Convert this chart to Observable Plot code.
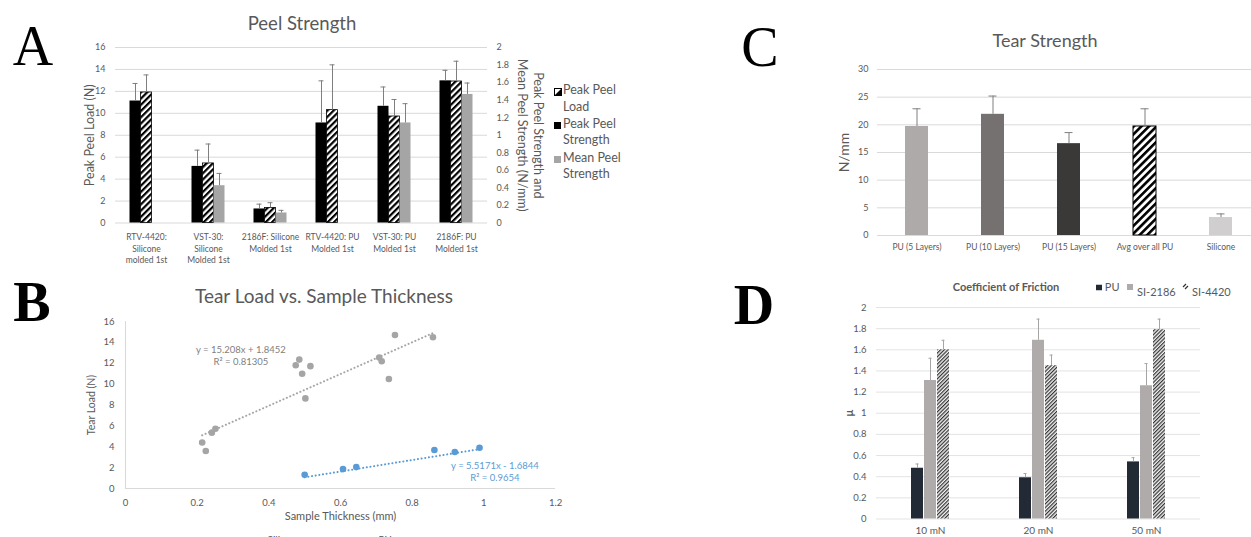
<!DOCTYPE html>
<html>
<head>
<meta charset="utf-8">
<script src="https://cdn.jsdelivr.net/npm/d3@7"></script>
<script src="https://cdn.jsdelivr.net/npm/@observablehq/plot@0.6"></script>
<style>
  html, body { margin: 0; padding: 0; background: #fff; }
  body { width: 1251px; height: 537px; overflow: hidden; position: relative; font-family: Lato, "Open Sans", sans-serif; color: #595959; }
  .abs { position: absolute; }
  .abs svg { max-width: none !important; }
  .c { position: absolute; transform: translate(-50%, -50%); white-space: nowrap; line-height: 1; }
  .l { position: absolute; transform: translate(0, -50%); white-space: nowrap; line-height: 1; }
  .letter { font-family: "Liberation Serif", "Times New Roman", serif; color: #000; }
  .sw { display: inline-block; vertical-align: middle; }
</style>
</head>
<body>
<script>
// ================= Panel A: Peel Strength =================
const peelCategories = ["RTV-4420: Silicone molded 1st", "VST-30: Silicone Molded 1st", "2186F: Silicone Molded 1st", "RTV-4420: PU Molded 1st", "VST-30: PU Molded 1st", "2186F: PU Molded 1st"];
const peelCategoryLabels = ["RTV-4420:\nSilicone\nmolded 1st", "VST-30:\nSilicone\nMolded 1st", "2186F: Silicone\nMolded 1st", "RTV-4420: PU\nMolded 1st", "VST-30: PU\nMolded 1st", "2186F: PU\nMolded 1st"];
const peelSeries = ["Peak Peel Strength", "Peak Peel Load", "Mean Peel Strength"];
const peakPeelLoad = [11.9, 5.43, 1.37, 10.29, 9.71, 12.9];            // N (left axis)
const peakPeelLoadErr = [1.6, 1.77, 0.48, 4.13, 1.55, 1.85];
const peakPeelStrength = [1.39, 0.645, 0.16, 1.14, 1.33, 1.62];       // N/mm (right axis)
const peakPeelStrengthErr = [0.2, 0.185, 0.055, 0.48, 0.22, 0.12];
const meanPeelStrength = [null, 0.425, 0.114, null, 1.14, 1.465];      // N/mm (right axis)
const meanPeelStrengthErr = [null, 0.14, 0.03, null, 0.22, 0.13];
const peelLeftTicks = [0, 2, 4, 6, 8, 10, 12, 14, 16];
const peelRightTicks = [0, 0.2, 0.4, 0.6, 0.8, 1, 1.2, 1.4, 1.6, 1.8, 2];
const peelRightFactor = 8; // 2 N/mm on the right axis = 16 N on the left axis

// ================= Panel B: Tear Load vs. Sample Thickness =================
const puThickness = [0.214, 0.224, 0.241, 0.251, 0.475, 0.485, 0.493, 0.516, 0.502, 0.708, 0.715, 0.735, 0.752, 0.858];
const puTearLoad = [4.41, 3.59, 5.35, 5.73, 11.81, 12.35, 10.99, 11.72, 8.63, 12.54, 12.19, 10.49, 14.71, 14.49];
const siThickness = [0.50, 0.607, 0.644, 0.862, 0.919, 0.988];
const siTearLoad = [1.32, 1.86, 2.05, 3.69, 3.50, 3.91];
const puFit = [15.208, 1.8452];   // slope, intercept
const siFit = [5.5171, -1.6844];
const puFitText = "y = 15.208x + 1.8452\nR² = 0.81305";
const siFitText = "y = 5.5171x - 1.6844\nR² = 0.9654";
const puFitLabelAt = [0.322, 12.74];
const siFitLabelAt = [1.031, 1.62];
const tearXTicks = [0, 0.2, 0.4, 0.6, 0.8, 1, 1.2];
const tearYTicks = [0, 2, 4, 6, 8, 10, 12, 14, 16];

// ================= Panel C: Tear Strength =================
const tearCategories = ["PU (5 Layers)", "PU (10 Layers)", "PU (15 Layers)", "Avg over all PU", "Silicone"];
const tearStrength = [19.7, 21.9, 16.6, 19.7, 3.25];
const tearStrengthErr = [3.2, 3.3, 2.0, 3.2, 0.65];
const tearColors = ["#aeaaaa", "#767171", "#3b3838", "url(#hatchC)", "#d0cece"];
const tearStrengthTicks = [0, 5, 10, 15, 20, 25, 30];

// ================= Panel D: Coefficient of Friction =================
const frictionLoads = ["10 mN", "20 mN", "50 mN"];
const frictionSeries = ["PU", "SI-2186", "SI-4420"];
const frictionPU = [0.48, 0.39, 0.54];
const frictionPUErr = [0.04, 0.04, 0.04];
const frictionSI2186 = [1.31, 1.69, 1.26];
const frictionSI2186Err = [0.21, 0.2, 0.21];
const frictionSI4420 = [1.60, 1.45, 1.79];
const frictionSI4420Err = [0.09, 0.1, 0.1];
const frictionColors = ["#222a35", "#afabab", "url(#hatchD)"];
const frictionTicks = [0, 0.2, 0.4, 0.6, 0.8, 1, 1.2, 1.4, 1.6, 1.8, 2];

// ---------- helpers ----------
const fmt1 = d => String(+(+d).toFixed(1));
function addPattern(svg, id, size, stripe, fg, bg) {
  const defs = d3.select(svg).insert("defs", ":first-child");
  const p = defs.append("pattern").attr("id", id).attr("patternUnits", "userSpaceOnUse")
    .attr("width", size).attr("height", size).attr("patternTransform", "rotate(45)");
  p.append("rect").attr("width", size).attr("height", size).attr("fill", bg);
  p.append("rect").attr("width", stripe).attr("height", size).attr("fill", fg);
}
function place(el, left, top, w, h) {
  const d = document.createElement("div");
  d.className = "abs";
  d.style.left = left + "px";
  d.style.top = top + "px";
  d.style.width = w + "px";
  d.style.height = h + "px";
  el.style.maxWidth = "none";
  el.style.width = w + "px";
  el.style.height = h + "px";
  d.appendChild(el);
  document.body.appendChild(d);
  return d;
}
function html(str) {
  const t = document.createElement("template");
  t.innerHTML = str.trim();
  document.body.appendChild(t.content.firstChild);
}
const baseStyle = {fontFamily: "Lato, sans-serif", fontSize: "9px", color: "#595959", background: "transparent", overflow: "visible"};

// ---------- Panel A ----------
const peelRows = [];
peelCategories.forEach((c, i) => {
  peelRows.push({cat: c, series: "Peak Peel Strength", y: peakPeelStrength[i] * peelRightFactor, top: (peakPeelStrength[i] + peakPeelStrengthErr[i]) * peelRightFactor});
  peelRows.push({cat: c, series: "Peak Peel Load", y: peakPeelLoad[i], top: peakPeelLoad[i] + peakPeelLoadErr[i]});
  if (meanPeelStrength[i] != null)
    peelRows.push({cat: c, series: "Mean Peel Strength", y: meanPeelStrength[i] * peelRightFactor, top: (meanPeelStrength[i] + meanPeelStrengthErr[i]) * peelRightFactor});
});
const bySeries = s => peelRows.filter(d => d.series === s);
const svgA = Plot.plot({
  width: 620, height: 270,
  marginLeft: 113.5, marginRight: 131, marginTop: 47, marginBottom: 47.5,
  style: baseStyle,
  fx: {domain: peelCategories, paddingInner: 0, paddingOuter: 0, axis: null},
  x: {domain: peelSeries, paddingInner: 0, paddingOuter: 1.2, axis: null},
  y: {domain: [0, 16], axis: null},
  marks: [
    Plot.gridY(peelLeftTicks, {stroke: "#d9d9d9", strokeOpacity: 1}),
    Plot.axisY(peelLeftTicks, {anchor: "left", tickSize: 0, tickPadding: 10, fontSize: 9, label: null}),
    Plot.axisY(peelRightTicks.map(v => v * peelRightFactor), {anchor: "right", tickSize: 0, tickPadding: 9, fontSize: 9, label: null, tickFormat: d => fmt1(d / peelRightFactor)}),
    Plot.axisFx({anchor: "bottom", tickSize: 0, tickPadding: 9, fontSize: 8.5, lineHeight: 1.35, label: null, tickFormat: d => peelCategoryLabels[peelCategories.indexOf(d)]}),
    Plot.barY(bySeries("Peak Peel Strength"), {fx: "cat", x: "series", y: "y", fill: "#000"}),
    Plot.barY(bySeries("Peak Peel Load"), {fx: "cat", x: "series", y: "y", fill: "url(#hatchA)", stroke: "#000", strokeWidth: 0.8}),
    Plot.barY(bySeries("Mean Peel Strength"), {fx: "cat", x: "series", y: "y", fill: "#a5a5a5"}),
    Plot.ruleX(peelRows, {fx: "cat", x: "series", y1: "y", y2: "top", stroke: "#7f7f7f", strokeWidth: 1}),
    Plot.tickY(peelRows, {fx: "cat", x: "series", y: "top", stroke: "#7f7f7f", strokeWidth: 1, insetLeft: 3, insetRight: 3}),
    Plot.text(["Peak Peel Load (N)"], {fx: () => peelCategories[0], frameAnchor: "left", textAnchor: "middle", rotate: -90, dx: -25.5, fontSize: 12.5, fill: "#595959"}),
    Plot.text(["Peak Peel Strength and\nMean Peel Strength (N/mm)"], {fx: () => peelCategories[5], frameAnchor: "right", textAnchor: "middle", rotate: 90, dx: 44, fontSize: 12.5, lineHeight: 1.3, fill: "#595959"})
  ]
});
addPattern(svgA, "hatchA", 4.4, 2.2, "#000", "#fff");
place(svgA, 0, 0, 620, 270);
html(`<div class="c" style="left:302px;top:23px;font-size:18.5px;">Peel Strength</div>`);
html(`<div class="c letter" style="left:33px;top:46px;font-size:56px;">A</div>`);
// legend A
const legendA = [
  ["<svg width='8' height='8'><rect x='0.5' y='0.5' width='7' height='7' fill='#fff' stroke='#000'/><path d='M7.5 0.5 L7.5 7.5 L0.5 7.5 Z' fill='#000'/></svg>", "Peak Peel", "Load", 90],
  ["<svg width='8' height='8'><rect width='7' height='7' fill='#000'/></svg>", "Peak Peel", "Strength", 123.5],
  ["<svg width='8' height='8'><rect width='7' height='7' fill='#a5a5a5'/></svg>", "Mean Peel", "Strength", 157.5]
];
legendA.forEach(([sw, a, b, y]) => {
  html(`<div class="l" style="left:554px;top:${y}px;">${sw}</div>`);
  html(`<div class="l" style="left:563px;top:${y}px;font-size:12.5px;">${a}</div>`);
  html(`<div class="l" style="left:563px;top:${y + 16.5}px;font-size:12.5px;">${b}</div>`);
});

// ---------- Panel B ----------
const puPoints = puThickness.map((x, i) => ({x, y: puTearLoad[i]}));
const siPoints = siThickness.map((x, i) => ({x, y: siTearLoad[i]}));
const fitLine = (xs, [m, b]) => d3.extent(xs).map(x => ({x, y: m * x + b}));
const svgB = Plot.plot({
  width: 620, height: 237,
  marginLeft: 125, marginRight: 65, marginTop: 21, marginBottom: 49,
  style: baseStyle,
  x: {domain: [0, 1.2], axis: null},
  y: {domain: [0, 16], axis: null},
  marks: [
    Plot.ruleX([0], {y1: 0, y2: 16, stroke: "#d9d9d9"}),
    Plot.ruleY([0], {x1: 0, x2: 1.2, stroke: "#d9d9d9"}),
    Plot.axisX(tearXTicks, {tickSize: 0, tickPadding: 11, fontSize: 9.5, label: null, tickFormat: fmt1}),
    Plot.axisY(tearYTicks, {tickSize: 0, tickPadding: 11, fontSize: 9.5, label: null}),
    Plot.line(fitLine(puThickness, puFit), {x: "x", y: "y", stroke: "#a5a5a5", strokeWidth: 2, strokeDasharray: "0.1 3.6", strokeLinecap: "round"}),
    Plot.line(fitLine(siThickness, siFit), {x: "x", y: "y", stroke: "#5b9bd5", strokeWidth: 2, strokeDasharray: "0.1 3.6", strokeLinecap: "round"}),
    Plot.dot(puPoints, {x: "x", y: "y", r: 3.3, fill: "#a5a5a5"}),
    Plot.dot(siPoints, {x: "x", y: "y", r: 3.3, fill: "#5b9bd5"}),
    Plot.text([puFitText], {x: () => puFitLabelAt[0], y: () => puFitLabelAt[1], fontSize: 9.5, lineHeight: 1.25, fill: "#7f7f7f"}),
    Plot.text([siFitText], {x: () => siFitLabelAt[0], y: () => siFitLabelAt[1], fontSize: 9.5, lineHeight: 1.25, fill: "#5b9bd5"}),
    Plot.text(["Tear Load (N)"], {frameAnchor: "left", textAnchor: "middle", rotate: -90, dx: -34, fontSize: 10.5, fill: "#595959"}),
    Plot.text(["Sample Thickness (mm)"], {frameAnchor: "bottom", dy: 31, fontSize: 11, fill: "#595959"})
  ]
});
place(svgB, 0, 300, 620, 237);
html(`<div class="c" style="left:324px;top:295px;font-size:19px;">Tear Load vs. Sample Thickness</div>`);
html(`<div class="c letter" style="left:32px;top:302px;font-size:56px;font-weight:bold;">B</div>`);
html(`<div class="l" style="left:259px;top:539px;font-size:10px;"><svg class="sw" width="6" height="6"><circle cx="3" cy="3" r="3" fill="#5b9bd5"/></svg> Silicone</div>`);
html(`<div class="l" style="left:370px;top:539px;font-size:10px;"><svg class="sw" width="6" height="6"><circle cx="3" cy="3" r="3" fill="#a5a5a5"/></svg> PU</div>`);

// ---------- Panel C ----------
const tearRows = tearCategories.map((c, i) => ({cat: c, v: tearStrength[i], top: tearStrength[i] + tearStrengthErr[i]}));
const svgC = Plot.plot({
  width: 470, height: 270,
  marginLeft: 77, marginRight: 10.5, marginTop: 69, marginBottom: 35,
  style: baseStyle,
  x: {domain: tearCategories, paddingInner: 0.7, paddingOuter: 0.35, axis: null},
  y: {domain: [0, 30], axis: null},
  color: {domain: tearCategories, range: tearColors},
  marks: [
    Plot.gridY(tearStrengthTicks, {stroke: "#d9d9d9", strokeOpacity: 1}),
    Plot.axisY(tearStrengthTicks, {tickSize: 0, tickPadding: 9, fontSize: 9, label: null}),
    Plot.axisX({tickSize: 0, tickPadding: 8, fontSize: 8.5, label: null}),
    Plot.barY(tearRows, {x: "cat", y: "v", fill: "cat"}),
    Plot.barY(tearRows.filter(d => d.cat === "Avg over all PU"), {x: "cat", y: "v", fill: "none", stroke: "#000", strokeWidth: 1}),
    Plot.ruleX(tearRows, {x: "cat", y1: "v", y2: "top", stroke: "#7f7f7f"}),
    Plot.tickY(tearRows, {x: "cat", y: "top", stroke: "#7f7f7f", insetLeft: 7.5, insetRight: 7.5}),
    Plot.text(["N/mm"], {frameAnchor: "left", textAnchor: "middle", rotate: -90, dx: -33, fontSize: 14, fill: "#595959"})
  ]
});
addPattern(svgC, "hatchC", 5.4, 2.6, "#000", "#fff");
place(svgC, 800, 0, 470, 270);
html(`<div class="c" style="left:1045px;top:40px;font-size:18px;">Tear Strength</div>`);
html(`<div class="c letter" style="left:760px;top:47px;font-size:56px;">C</div>`);

// ---------- Panel D ----------
const frictionValues = [frictionPU, frictionSI2186, frictionSI4420];
const frictionErrs = [frictionPUErr, frictionSI2186Err, frictionSI4420Err];
const frictionRows = [];
frictionLoads.forEach((load, i) => frictionSeries.forEach((s, j) =>
  frictionRows.push({load, series: s, v: frictionValues[j][i], top: frictionValues[j][i] + frictionErrs[j][i]})));
const svgD = Plot.plot({
  width: 420, height: 247,
  marginLeft: 75, marginRight: 19, marginTop: 17, marginBottom: 18.5,
  style: baseStyle,
  fx: {domain: frictionLoads, paddingInner: 0, paddingOuter: 0, axis: null},
  x: {domain: frictionSeries, paddingInner: 0.05, paddingOuter: 2.5, axis: null},
  y: {domain: [0, 2], axis: null},
  color: {domain: frictionSeries, range: frictionColors},
  marks: [
    Plot.gridY(frictionTicks, {stroke: "#e3e3e3", strokeOpacity: 1}),
    Plot.axisY(frictionTicks, {anchor: "left", tickSize: 0, tickPadding: 10, fontSize: 9.5, label: null, tickFormat: fmt1}),
    Plot.axisFx({anchor: "bottom", tickSize: 0, tickPadding: 8, fontSize: 10, label: null}),
    Plot.barY(frictionRows, {fx: "load", x: "series", y: "v", fill: "series"}),
    Plot.ruleX(frictionRows, {fx: "load", x: "series", y1: "v", y2: "top", stroke: "#a5a5a5"}),
    Plot.tickY(frictionRows, {fx: "load", x: "series", y: "top", stroke: "#a5a5a5", insetLeft: 4.5, insetRight: 4.5}),
    Plot.text(["μ"], {fx: () => frictionLoads[0], frameAnchor: "left", textAnchor: "middle", rotate: -90, dx: -27, fontSize: 11, fontWeight: "bold", fill: "#595959"})
  ]
});
addPattern(svgD, "hatchD", 2.6, 1.2, "#333", "#f2f2f2");
place(svgD, 800, 290, 420, 247);
html(`<div class="c" style="left:1006px;top:286px;font-size:11px;font-weight:bold;">Coefficient of Friction</div>`);
html(`<div class="c letter" style="left:754px;top:305px;font-size:56px;font-weight:bold;">D</div>`);
html(`<div class="l" style="left:1096px;top:286px;font-size:11px;"><svg class="sw" width="6" height="6"><rect width="6" height="6" fill="#222a35"/></svg> PU</div>`);
html(`<div class="l" style="left:1127px;top:285px;"><svg class="sw" width="6" height="6"><rect width="6" height="6" fill="#afabab"/></svg></div>`);
html(`<div class="l" style="left:1137px;top:291px;font-size:11px;">SI-2186</div>`);
html(`<div class="l" style="left:1182px;top:285px;"><svg class="sw" width="7" height="7"><path d="M1 4 L4 1 M3 6 L6 3" stroke="#333" stroke-width="1.2"/></svg></div>`);
html(`<div class="l" style="left:1192px;top:291px;font-size:11px;">SI-4420</div>`);
</script>
</body>
</html>
